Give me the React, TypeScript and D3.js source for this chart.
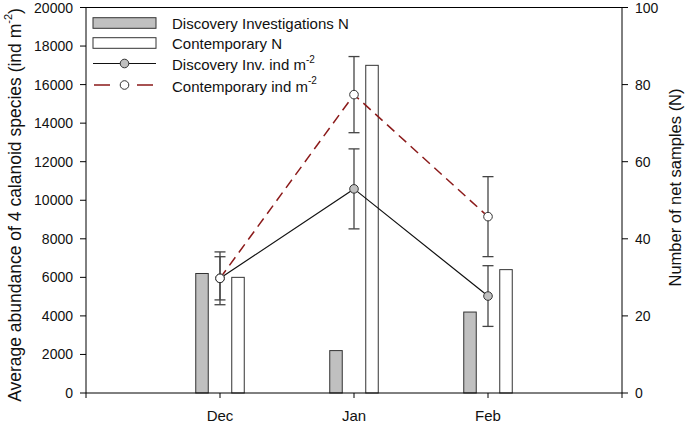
import React from "react";
import * as d3 from "d3";

const months = ["Dec", "Jan", "Feb"];
const discoveryN = [31, 11, 21];
const contemporaryN = [30, 85, 32];
const discoveryMean = [5950, 10590, 5030];
const discoveryErr = [1120, 2075, 1575];
const contemporaryMean = [5950, 15480, 9150];
const contemporaryErr = [1370, 1975, 2075];
const leftTicks = [0, 2000, 4000, 6000, 8000, 10000, 12000, 14000, 16000, 18000, 20000];
const rightTicks = [0, 20, 40, 60, 80, 100];

const FONT = "'Liberation Sans', Arial, sans-serif";
const RED = "#8b1a1a";
const GRAY = "#c0c0c0";
const DARK = "#333";

export default function App() {
  const W = 685, H = 425;
  const L = 86, R = 622, T = 7.5, B = 393;
  const x = d3.scaleLinear().domain([0, 4]).range([L, R]);
  const yL = d3.scaleLinear().domain([0, 20000]).range([B, T]);
  const yR = d3.scaleLinear().domain([0, 100]).range([B, T]);
  const barW = 12.5, off = 18, cap = 5.5, r = 4.3;

  const lineGen = d3.line<number>().x((_, i) => x(i + 1)).y((d) => yL(d));

  const errBars = (means: number[], errs: number[], key: string) =>
    means.map((m, i) => {
      const cx = x(i + 1);
      const y1 = yL(m + errs[i]), y2 = yL(m - errs[i]);
      return (
        <g key={key + i} stroke="#444" strokeWidth={1.3}>
          <line x1={cx} x2={cx} y1={y1} y2={y2} />
          <line x1={cx - cap} x2={cx + cap} y1={y1} y2={y1} />
          <line x1={cx - cap} x2={cx + cap} y1={y2} y2={y2} />
        </g>
      );
    });

  const legX1 = 93, legX2 = 156, legT = 172;
  const rows = [23, 43, 63.5, 85];

  return (
    <svg width={W} height={H} style={{ position: "absolute", left: 0, top: 0, background: "#fff" }} fontFamily={FONT}>
      {/* bars */}
      {discoveryN.map((v, i) => (
        <rect key={"dn" + i} x={x(i + 1) - off - barW / 2} y={yR(v)} width={barW} height={B - yR(v)} fill={GRAY} stroke={DARK} strokeWidth={1} />
      ))}
      {contemporaryN.map((v, i) => (
        <rect key={"cn" + i} x={x(i + 1) + off - barW / 2} y={yR(v)} width={barW} height={B - yR(v)} fill="#fff" stroke={DARK} strokeWidth={1} />
      ))}

      {/* error bars */}
      {errBars(discoveryMean, discoveryErr, "de")}
      {errBars(contemporaryMean, contemporaryErr, "ce")}

      {/* lines */}
      <path d={lineGen(discoveryMean) || ""} fill="none" stroke="#111" strokeWidth={1.2} />
      <path d={lineGen(contemporaryMean) || ""} fill="none" stroke={RED} strokeWidth={1.5} strokeDasharray="10,6" />

      {/* points */}
      {discoveryMean.map((m, i) => (
        <circle key={"dp" + i} cx={x(i + 1)} cy={yL(m)} r={r} fill={GRAY} stroke={DARK} strokeWidth={1} />
      ))}
      {contemporaryMean.map((m, i) => (
        <circle key={"cp" + i} cx={x(i + 1)} cy={yL(m)} r={r} fill="#fff" stroke={DARK} strokeWidth={1} />
      ))}

      {/* frame */}
      <line x1={L} x2={R} y1={T} y2={T} stroke="#000" strokeWidth={1} />
      <line x1={L} x2={L} y1={T} y2={B} stroke="#000" strokeWidth={1} />
      <line x1={R} x2={R} y1={T} y2={B} stroke="#000" strokeWidth={1} />
      <line x1={L} x2={R} y1={B} y2={B} stroke="#000" strokeWidth={1} />

      {/* left axis */}
      {leftTicks.map((t) => (
        <g key={"lt" + t}>
          <line x1={L - 6} x2={L} y1={yL(t)} y2={yL(t)} stroke="#000" />
          <text x={L - 13} y={yL(t)} textAnchor="end" dominantBaseline="central" fontSize={14} fill="#111">{t}</text>
        </g>
      ))}
      {/* right axis */}
      {rightTicks.map((t) => (
        <g key={"rt" + t}>
          <line x1={R} x2={R + 6} y1={yR(t)} y2={yR(t)} stroke="#000" />
          <text x={R + 13} y={yR(t)} textAnchor="start" dominantBaseline="central" fontSize={14} fill="#111">{t}</text>
        </g>
      ))}
      {/* bottom axis */}
      {[0, 1, 2, 3, 4].map((t) => (
        <line key={"bt" + t} x1={x(t)} x2={x(t)} y1={B} y2={B + 5} stroke="#000" />
      ))}
      {months.map((m, i) => (
        <text key={"m" + m} x={x(i + 1)} y={415} textAnchor="middle" dominantBaseline="central" fontSize={15} fill="#111">{m}</text>
      ))}

      {/* axis titles */}
      <text transform="translate(15,205) rotate(-90)" textAnchor="middle" dominantBaseline="central" fontSize={17.5} fill="#111">
        Average abundance of 4 calanoid species (ind m<tspan fontSize={11} dy={-7}>-2</tspan><tspan dy={7}>)</tspan>
      </text>
      <text transform="translate(675,187.5) rotate(-90)" textAnchor="middle" dominantBaseline="central" fontSize={16.5} fill="#111">
        Number of net samples (N)
      </text>

      {/* legend */}
      <rect x={legX1} y={rows[0] - 5.3} width={legX2 - legX1} height={10.6} fill={GRAY} stroke={DARK} />
      <rect x={legX1} y={rows[1] - 5.3} width={legX2 - legX1} height={10.6} fill="#fff" stroke={DARK} />
      <line x1={legX1} x2={legX2} y1={rows[2]} y2={rows[2]} stroke="#111" strokeWidth={1.2} />
      <circle cx={(legX1 + legX2) / 2} cy={rows[2]} r={r} fill={GRAY} stroke={DARK} />
      <line x1={legX1 + 1} x2={legX2 - 3} y1={rows[3]} y2={rows[3]} stroke={RED} strokeWidth={1.5} strokeDasharray="16,27" />
      <circle cx={(legX1 + legX2) / 2} cy={rows[3]} r={r} fill="#fff" stroke={DARK} />
      <text x={legT} y={rows[0]} dominantBaseline="central" fontSize={15} fill="#111">Discovery Investigations N</text>
      <text x={legT} y={rows[1]} dominantBaseline="central" fontSize={15} fill="#111">Contemporary N</text>
      <text x={legT} y={rows[2] + 1} dominantBaseline="central" fontSize={15} fill="#111">
        Discovery Inv. ind m<tspan fontSize={10} dy={-6}>-2</tspan>
      </text>
      <text x={legT} y={rows[3] + 1} dominantBaseline="central" fontSize={15} fill="#111">
        Contemporary ind m<tspan fontSize={10} dy={-6}>-2</tspan>
      </text>
    </svg>
  );
}
